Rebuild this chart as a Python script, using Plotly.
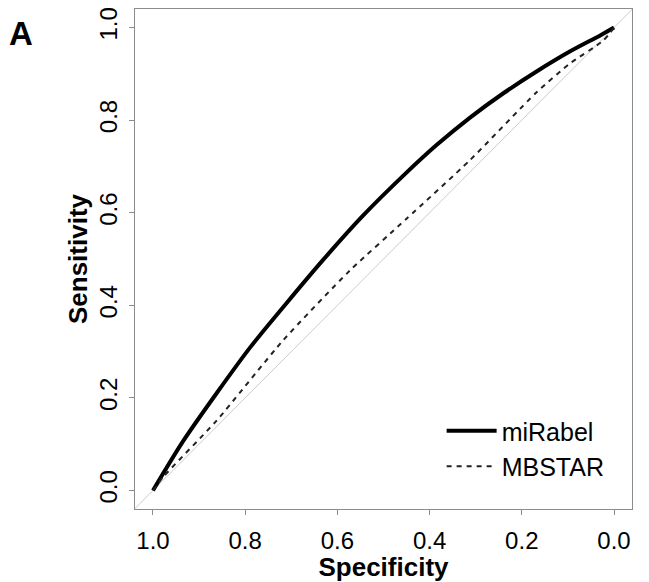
import plotly.graph_objects as go

# ROC curve values (specificity, sensitivity)
mirabel_spec = [1.0, 0.935, 0.862, 0.790, 0.710, 0.631, 0.544, 0.457, 0.385, 0.313, 0.240, 0.168, 0.096, 0.030, 0.0]
mirabel_sens = [0.0, 0.106, 0.210, 0.308, 0.405, 0.498, 0.594, 0.680, 0.746, 0.805, 0.858, 0.905, 0.948, 0.983, 1.0]

mbstar_spec = [1.0, 0.978, 0.862, 0.718, 0.573, 0.450, 0.313, 0.168, 0.096, 0.023, 0.0]
mbstar_sens = [0.0, 0.029, 0.151, 0.324, 0.475, 0.587, 0.713, 0.860, 0.922, 0.972, 1.0]

# chance (diagonal) reference line
chance_spec = [-0.1, 1.1]
chance_sens = [1 - s for s in chance_spec]

tick_vals = [0.0, 0.2, 0.4, 0.6, 0.8, 1.0]
tick_text = ["0.0", "0.2", "0.4", "0.6", "0.8", "1.0"]

FONT = "Liberation Sans, Arial, Helvetica, sans-serif"

fig = go.Figure()
fig.add_trace(go.Scatter(x=chance_spec, y=chance_sens, mode="lines",
                         line=dict(color="#cccccc", width=1),
                         showlegend=False, hoverinfo="skip"))
fig.add_trace(go.Scatter(x=mirabel_spec, y=mirabel_sens, mode="lines", name="miRabel",
                         line=dict(color="black", width=4, shape="spline", smoothing=0.8)))
fig.add_trace(go.Scatter(x=mbstar_spec, y=mbstar_sens, mode="lines", name="MBSTAR",
                         line=dict(color="#222222", width=2, dash="5px,5px",
                                   shape="spline", smoothing=0.6)))

axis_common = dict(
    tickvals=tick_vals, ticktext=tick_text,
    showgrid=False, zeroline=False, automargin=False,
    showline=True, mirror=True, linecolor="#8c8c8c", linewidth=1,
    ticks="outside", ticklen=5, tickcolor="#8c8c8c", tickwidth=1,
    tickfont=dict(family=FONT, size=24, color="black"),
)

fig.update_layout(
    width=649, height=582,
    margin=dict(l=135, r=17, t=9, b=73),
    paper_bgcolor="white", plot_bgcolor="white",
    font=dict(family=FONT, color="black"),
    xaxis=dict(range=[1.039, -0.039], ticklabelstandoff=5, **axis_common,
               title=dict(text="<b>Specificity</b>", font=dict(family=FONT, size=26), standoff=7)),
    yaxis=dict(range=[-0.04, 1.04], tickangle=-90, ticklabelstandoff=2, **axis_common,
               title=dict(text="<b>Sensitivity</b>", font=dict(family=FONT, size=26), standoff=0)),
    legend=dict(x=0.955, y=0.04, xanchor="right", yanchor="bottom",
                bgcolor="rgba(0,0,0,0)", font=dict(family=FONT, size=25),
                itemwidth=50, tracegroupgap=0),
    showlegend=True,
    annotations=[dict(text="<b>A</b>", x=-0.229, y=0.951, xref="paper", yref="paper",
                      xanchor="center", yanchor="middle", showarrow=False,
                      font=dict(family=FONT, size=33, color="black"))],
)

fig.write_html("out.html")
